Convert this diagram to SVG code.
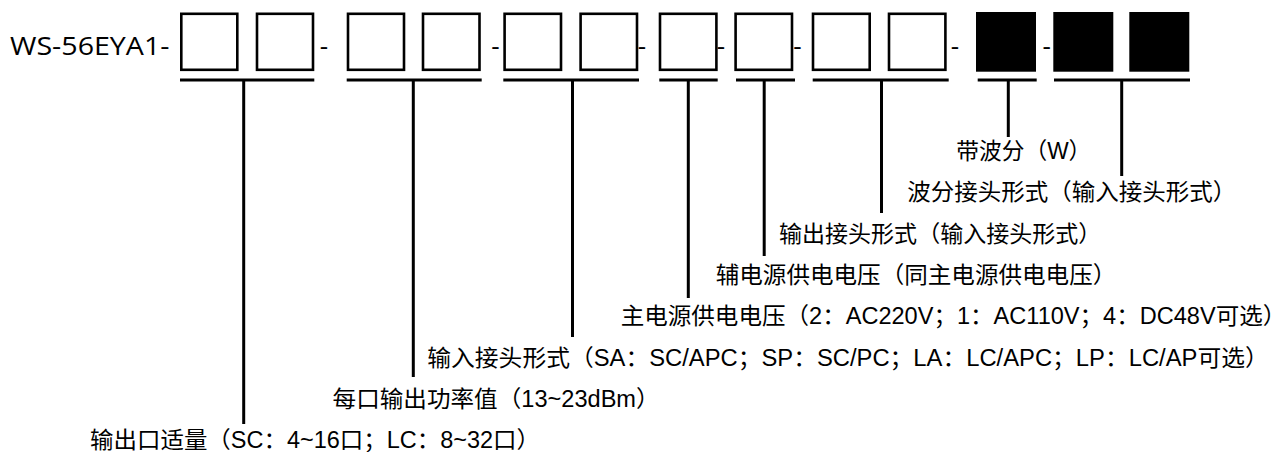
<svg xmlns="http://www.w3.org/2000/svg" width="1287" height="452" viewBox="0 0 1287 452">
<style>
.bx{fill:#fff;stroke:#000;stroke-width:2.6}
.bk{fill:#000;stroke:none}
.tt{font-family:"Open Sans","Noto Sans",sans-serif;font-size:26px;fill:#000}
.sep{font-family:"Open Sans","Noto Sans",sans-serif;font-size:26px;fill:#000;text-anchor:middle}
.lb{font-family:"Liberation Sans","Noto Sans CJK SC",sans-serif;font-size:23px;fill:#000}
.ul{stroke:#000;stroke-width:2.8;fill:none}
.vl{stroke:#000;stroke-width:3;fill:none}
</style>
<rect width="1287" height="452" fill="#fff"/>
<g id="title"><text class="tt" x="10" y="55" textLength="159.5" lengthAdjust="spacingAndGlyphs">WS-56EYA1-</text></g>
<g id="seg1">
<rect class="bx" x="181.3" y="13.8" width="56" height="56"/>
<rect class="bx" x="257" y="13.8" width="56" height="56"/>
</g>
<g id="sep1"><text class="sep" x="324" y="55">-</text></g>
<g id="seg2">
<rect class="bx" x="348" y="13.8" width="56" height="56"/>
<rect class="bx" x="423" y="13.8" width="56.5" height="56"/>
</g>
<g id="sep2"><text class="sep" x="495.5" y="55">-</text></g>
<g id="seg3">
<rect class="bx" x="504.6" y="13.8" width="56.4" height="56"/>
<rect class="bx" x="580.6" y="13.8" width="56.4" height="56"/>
</g>
<g id="sep3"><text class="sep" x="642" y="55">-</text></g>
<g id="seg4"><rect class="bx" x="660" y="13.8" width="56.4" height="56"/></g>
<g id="sep4"><text class="sep" x="721" y="55">-</text></g>
<g id="seg5"><rect class="bx" x="735.6" y="13.8" width="56.4" height="56"/></g>
<g id="sep5"><text class="sep" x="797.5" y="55">-</text></g>
<g id="seg6">
<rect class="bx" x="813" y="13.8" width="56.7" height="56"/>
<rect class="bx" x="889" y="13.8" width="56.4" height="56"/>
</g>
<g id="sep6"><text class="sep" x="955" y="55">-</text></g>
<g id="seg7"><rect class="bk" x="976" y="12" width="60" height="59.7"/></g>
<g id="sep7"><text class="sep" x="1046.7" y="55">-</text></g>
<g id="seg8">
<rect class="bk" x="1053.3" y="12" width="60" height="59.7"/>
<rect class="bk" x="1129.3" y="12" width="60" height="59.7"/>
</g>
<g id="connectors">
<line class="ul" x1="180" y1="80" x2="314.3" y2="80"/>
<line class="ul" x1="346.7" y1="80" x2="481.7" y2="80"/>
<line class="ul" x1="503.3" y1="80" x2="639" y2="80"/>
<line class="ul" x1="659.3" y1="80" x2="717.7" y2="80"/>
<line class="ul" x1="736" y1="80" x2="795" y2="80"/>
<line class="ul" x1="812.7" y1="80" x2="948.7" y2="80"/>
<line class="ul" x1="977.7" y1="80" x2="1036.7" y2="80"/>
<line class="ul" x1="1054" y1="80" x2="1190" y2="80"/>
<line class="vl" x1="243.7" y1="80" x2="243.7" y2="424"/>
<line class="vl" x1="413.3" y1="80" x2="413.3" y2="377"/>
<line class="vl" x1="572.5" y1="80" x2="572.5" y2="337"/>
<line class="vl" x1="688.3" y1="80" x2="688.3" y2="298"/>
<line class="vl" x1="764.2" y1="80" x2="764.2" y2="256"/>
<line class="vl" x1="881.5" y1="80" x2="881.5" y2="213"/>
<line class="vl" x1="1008.3" y1="80" x2="1008.3" y2="137"/>
<line class="vl" x1="1121.7" y1="80" x2="1121.7" y2="176"/>
</g>
<g id="label-wdm"><text class="lb" x="956.3" y="159" textLength="135" lengthAdjust="spacingAndGlyphs">带波分（W）</text></g>
<g id="label-wdm-conn"><text class="lb" x="907.3" y="200.3" textLength="329" lengthAdjust="spacingAndGlyphs">波分接头形式（输入接头形式）</text></g>
<g id="label-out-conn"><text class="lb" x="779" y="241.7" textLength="322.3" lengthAdjust="spacingAndGlyphs">输出接头形式（输入接头形式）</text></g>
<g id="label-aux-power"><text class="lb" x="715.7" y="283" textLength="400.6" lengthAdjust="spacingAndGlyphs">辅电源供电电压（同主电源供电电压）</text></g>
<g id="label-main-power"><text class="lb" x="620.7" y="324.3" textLength="665.6" lengthAdjust="spacingAndGlyphs">主电源供电电压（2：AC220V；1：AC110V；4：DC48V可选）</text></g>
<g id="label-in-conn"><text class="lb" x="427.3" y="365.7" textLength="841.4" lengthAdjust="spacingAndGlyphs">输入接头形式（SA：SC/APC；SP：SC/PC；LA：LC/APC；LP：LC/AP可选）</text></g>
<g id="label-power"><text class="lb" x="332.6" y="407" textLength="327" lengthAdjust="spacingAndGlyphs">每口输出功率值（13~23dBm）</text></g>
<g id="label-ports"><text class="lb" x="90" y="448.3" textLength="450" lengthAdjust="spacingAndGlyphs">输出口适量（SC：4~16口；LC：8~32口）</text></g>
</svg>
